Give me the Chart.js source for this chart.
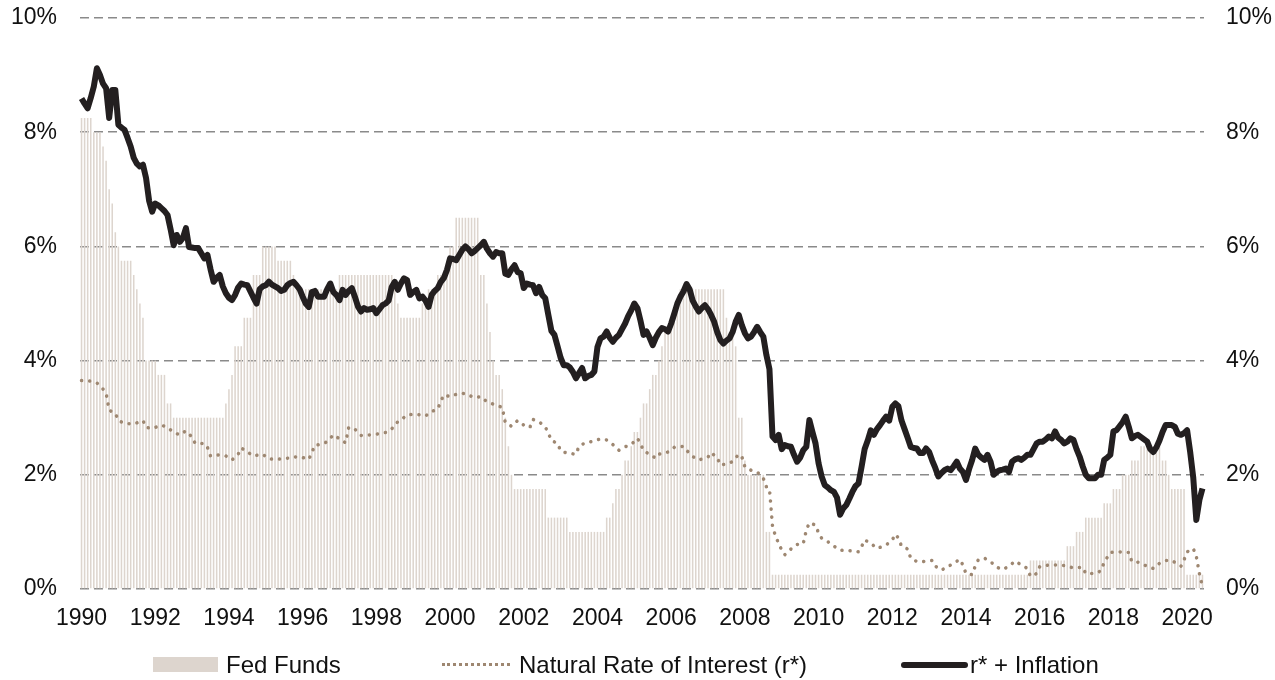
<!DOCTYPE html>
<html>
<head>
<meta charset="utf-8">
<script src="https://cdn.jsdelivr.net/npm/chart.js"></script>
<style>
  html, body { margin: 0; padding: 0; background: #fff; }
  .wrap { position: relative; width: 1275px; height: 680px; font-family: "Liberation Sans", Arial, sans-serif; }
  .legend-item { position: absolute; top: 650px; height: 30px; line-height: 30px; font-size: 24px; color: #111; white-space: nowrap; }
  .key { position: absolute; }
</style>
</head>
<body>
<div class="wrap">
  <canvas id="rateChart" width="1275" height="680"></canvas>

  <div class="key" style="left:153px; top:657px; width:65px; height:15px; background:#ddd5ce;"></div>
  <div class="legend-item" style="left:226px;">Fed Funds</div>

  <div class="key" style="left:442px; top:663px; width:68px; height:0; border-top:3px dotted #9e8771;"></div>
  <div class="legend-item" style="left:519px;">Natural Rate of Interest (r*)</div>

  <div class="key" style="left:901px; top:662px; width:67px; height:6px; background:#231f20; border-radius:3px;"></div>
  <div class="legend-item" style="left:970px;">r* + Inflation</div>
</div>

<script>
// ================================ data =============================
var startYear = 1990;
var monthCount = 366; // Jan 1990 - Jun 2020

// fed funds target, one value per month (as plotted)
var fedFunds = [
  8.25, 8.25, 8.25, 8.25, 8.0, 8.0, 8.0, 7.75, 7.5, 7.0, 6.75, 6.25,
  6.0, 5.75, 5.75, 5.75, 5.75, 5.5, 5.25, 5.0, 4.75, 4.0, 4.0, 4.0,
  4.0, 3.75, 3.75, 3.75, 3.25, 3.25, 3.0, 3.0, 3.0, 3.0, 3.0, 3.0,
  3.0, 3.0, 3.0, 3.0, 3.0, 3.0, 3.0, 3.0, 3.0, 3.0, 3.0, 3.25,
  3.5, 3.75, 4.25, 4.25, 4.25, 4.75, 4.75, 4.75, 5.5, 5.5, 5.5, 6.0,
  6.0, 6.0, 6.0, 6.0, 5.75, 5.75, 5.75, 5.75, 5.75, 5.5, 5.25, 5.25,
  5.25, 5.25, 5.25, 5.25, 5.25, 5.25, 5.25, 5.25, 5.25, 5.25, 5.25, 5.25,
  5.5, 5.5, 5.5, 5.5, 5.5, 5.5, 5.5, 5.5, 5.5, 5.5, 5.5, 5.5,
  5.5, 5.5, 5.5, 5.5, 5.5, 5.5, 5.25, 5.0, 4.75, 4.75, 4.75, 4.75,
  4.75, 4.75, 4.75, 5.0, 5.0, 5.25, 5.25, 5.25, 5.5, 5.5, 5.5, 5.75,
  6.0, 6.0, 6.5, 6.5, 6.5, 6.5, 6.5, 6.5, 6.5, 6.5, 5.5, 5.5,
  5.0, 4.5, 4.0, 3.75, 3.75, 3.5, 3.0, 2.5, 2.0, 1.75, 1.75, 1.75,
  1.75, 1.75, 1.75, 1.75, 1.75, 1.75, 1.75, 1.75, 1.25, 1.25, 1.25, 1.25,
  1.25, 1.25, 1.25, 1.0, 1.0, 1.0, 1.0, 1.0, 1.0, 1.0, 1.0, 1.0,
  1.0, 1.0, 1.0, 1.25, 1.25, 1.5, 1.75, 1.75, 2.0, 2.25, 2.25, 2.5,
  2.75, 2.75, 3.0, 3.25, 3.25, 3.5, 3.75, 3.75, 4.0, 4.25, 4.5, 4.5,
  4.75, 4.75, 5.0, 5.25, 5.25, 5.25, 5.25, 5.25, 5.25, 5.25, 5.25, 5.25,
  5.25, 5.25, 5.25, 5.25, 5.25, 5.25, 4.75, 4.5, 4.5, 4.25, 3.0, 3.0,
  2.25, 2.0, 2.0, 2.0, 2.0, 2.0, 2.0, 1.0, 1.0, 0.25, 0.25, 0.25,
  0.25, 0.25, 0.25, 0.25, 0.25, 0.25, 0.25, 0.25, 0.25, 0.25, 0.25, 0.25,
  0.25, 0.25, 0.25, 0.25, 0.25, 0.25, 0.25, 0.25, 0.25, 0.25, 0.25, 0.25,
  0.25, 0.25, 0.25, 0.25, 0.25, 0.25, 0.25, 0.25, 0.25, 0.25, 0.25, 0.25,
  0.25, 0.25, 0.25, 0.25, 0.25, 0.25, 0.25, 0.25, 0.25, 0.25, 0.25, 0.25,
  0.25, 0.25, 0.25, 0.25, 0.25, 0.25, 0.25, 0.25, 0.25, 0.25, 0.25, 0.25,
  0.25, 0.25, 0.25, 0.25, 0.25, 0.25, 0.25, 0.25, 0.25, 0.25, 0.25, 0.25,
  0.25, 0.25, 0.25, 0.25, 0.25, 0.25, 0.25, 0.25, 0.25, 0.5, 0.5, 0.5,
  0.5, 0.5, 0.5, 0.5, 0.5, 0.5, 0.5, 0.5, 0.5, 0.75, 0.75, 0.75,
  1.0, 1.0, 1.0, 1.25, 1.25, 1.25, 1.25, 1.25, 1.25, 1.5, 1.5, 1.5,
  1.75, 1.75, 1.75, 2.0, 2.0, 2.0, 2.25, 2.25, 2.25, 2.5, 2.5, 2.5,
  2.5, 2.5, 2.5, 2.5, 2.25, 2.25, 2.0, 1.75, 1.75, 1.75, 1.75, 1.75,
  0.25, 0.25, 0.25, 0.25, 0.25, 0.25
];

// r* + inflation, monthly
var rStarInflation = [
  8.59, 8.50, 8.42, 8.60, 8.80, 9.12, 9.00, 8.85, 8.77, 8.25, 8.74, 8.74,
  8.13, 8.08, 8.04, 7.90, 7.75, 7.55, 7.45, 7.40, 7.43, 7.20, 6.80, 6.61,
  6.75, 6.72, 6.67, 6.62, 6.55, 6.30, 6.02, 6.20, 6.08, 6.15, 6.32, 5.99,
  5.98, 5.97, 5.97, 5.88, 5.79, 5.85, 5.60, 5.38, 5.45, 5.50, 5.30, 5.18,
  5.10, 5.06, 5.15, 5.28, 5.35, 5.33, 5.32, 5.21, 5.10, 5.00, 5.25, 5.30,
  5.32, 5.38, 5.33, 5.30, 5.27, 5.22, 5.24, 5.32, 5.36, 5.38, 5.32, 5.25,
  5.12, 5.00, 4.94, 5.20, 5.22, 5.12, 5.12, 5.12, 5.25, 5.35, 5.20, 5.15,
  5.06, 5.24, 5.15, 5.22, 5.27, 5.12, 4.95, 4.86, 4.92, 4.89, 4.90, 4.92,
  4.83, 4.90, 4.97, 5.00, 5.05, 5.29, 5.38, 5.24, 5.35, 5.44, 5.41, 5.15,
  5.20, 5.24, 5.09, 5.12, 5.05, 4.94, 5.15, 5.22, 5.27, 5.38, 5.45, 5.59,
  5.79, 5.78, 5.76, 5.85, 5.94, 6.00, 5.95, 5.88, 5.92, 5.97, 6.02, 6.08,
  5.96, 5.88, 5.82, 5.90, 5.88, 5.88, 5.52, 5.50, 5.60, 5.67, 5.55, 5.53,
  5.27, 5.35, 5.33, 5.32, 5.18, 5.29, 5.15, 5.09, 4.80, 4.52, 4.45, 4.25,
  4.05, 3.92, 3.92, 3.88, 3.80, 3.69, 3.78, 3.87, 3.69, 3.73, 3.75, 3.81,
  4.24, 4.39, 4.42, 4.51, 4.40, 4.33, 4.40, 4.45, 4.55, 4.65, 4.78, 4.88,
  5.00, 4.92, 4.70, 4.45, 4.51, 4.40, 4.27, 4.40, 4.50, 4.57, 4.55, 4.51,
  4.65, 4.82, 5.00, 5.12, 5.21, 5.34, 5.25, 5.05, 4.95, 4.86, 4.92, 4.97,
  4.90, 4.80, 4.68, 4.50, 4.36, 4.30, 4.35, 4.39, 4.50, 4.68, 4.80, 4.62,
  4.48, 4.39, 4.42, 4.50, 4.59, 4.50, 4.42, 4.10, 3.85, 2.67, 2.61, 2.70,
  2.45, 2.52, 2.50, 2.49, 2.35, 2.23, 2.30, 2.43, 2.49, 2.96, 2.75, 2.55,
  2.20, 1.97, 1.82, 1.78, 1.73, 1.70, 1.60, 1.30, 1.41, 1.47, 1.58, 1.70,
  1.80, 1.85, 2.14, 2.45, 2.60, 2.78, 2.70, 2.80, 2.87, 2.95, 3.02, 2.95,
  3.19, 3.25, 3.20, 2.95, 2.80, 2.65, 2.49, 2.47, 2.46, 2.38, 2.38, 2.46,
  2.40, 2.25, 2.12, 1.97, 2.03, 2.08, 2.11, 2.08, 2.15, 2.23, 2.11, 2.05,
  1.91, 2.10, 2.26, 2.46, 2.35, 2.30, 2.26, 2.35, 2.23, 2.00, 2.05, 2.08,
  2.09, 2.11, 2.05, 2.23, 2.27, 2.29, 2.26, 2.30, 2.35, 2.35, 2.45, 2.55,
  2.58, 2.58, 2.62, 2.67, 2.64, 2.76, 2.65, 2.61, 2.55, 2.58, 2.64, 2.61,
  2.45, 2.32, 2.15, 2.00, 1.94, 1.94, 1.94, 2.00, 2.00, 2.26, 2.30, 2.35,
  2.76, 2.78, 2.85, 2.92, 3.02, 2.84, 2.64, 2.68, 2.70, 2.66, 2.62, 2.58,
  2.45, 2.40, 2.48, 2.60, 2.75, 2.87, 2.87, 2.87, 2.84, 2.72, 2.70, 2.73,
  2.78, 2.40, 1.95, 1.21, 1.56, 1.76
];

// natural rate of interest (r*): month index since Jan 1990 and value
var rStarMonth = [
  0, 3, 5, 7, 8, 9, 11, 12, 14, 17, 20, 21, 23, 26, 28, 30, 32, 34, 36, 37,
  40, 41, 42, 45, 47, 49, 51, 52, 54, 56, 59, 61, 63, 66, 69, 71, 74, 75, 76, 78,
  80, 82, 84, 86, 87, 89, 91, 94, 96, 99, 101, 102, 104, 106, 109, 112, 114, 116, 117, 118,
  120, 123, 125, 128, 130, 132, 134, 137, 138, 140, 142, 144, 146, 147, 149, 151, 152, 153, 155, 156,
  158, 161, 162, 164, 166, 169, 171, 173, 175, 177, 179, 181, 182, 183, 185, 187, 188, 191, 193, 196,
  197, 199, 201, 204, 205, 207, 208, 210, 212, 214, 215, 216, 218, 220, 222, 223, 224, 225, 226, 228,
  229, 231, 233, 235, 236, 237, 239, 240, 241, 243, 245, 247, 250, 253, 254, 255, 257, 259, 262, 264,
  265, 266, 267, 269, 270, 272, 274, 277, 278, 280, 282, 284, 286, 287, 288, 290, 291, 292, 294, 296,
  298, 300, 302, 304, 306, 308, 309, 311, 312, 315, 318, 320, 323, 326, 327, 330, 332, 333, 335, 338,
  341, 342, 344, 346, 349, 351, 353, 355, 358, 359, 360, 362, 363, 364, 365
];
var rStarValue = [
  3.65, 3.64, 3.61, 3.50, 3.43, 3.13, 3.08, 2.95, 2.90, 2.89, 2.95, 2.83, 2.81, 2.87, 2.83, 2.74, 2.70, 2.77, 2.66, 2.55,
  2.55, 2.48, 2.33, 2.35, 2.33, 2.26, 2.36, 2.47, 2.40, 2.33, 2.36, 2.28, 2.27, 2.28, 2.31, 2.32, 2.27, 2.39, 2.52, 2.53,
  2.58, 2.70, 2.63, 2.56, 2.83, 2.80, 2.69, 2.70, 2.71, 2.74, 2.80, 2.89, 2.96, 3.05, 3.06, 3.03, 3.11, 3.15, 3.29, 3.40,
  3.37, 3.43, 3.42, 3.35, 3.37, 3.28, 3.24, 3.18, 2.91, 2.85, 2.95, 2.87, 2.83, 2.97, 2.93, 2.84, 2.73, 2.60, 2.55, 2.42,
  2.38, 2.36, 2.50, 2.56, 2.58, 2.63, 2.61, 2.53, 2.43, 2.49, 2.53, 2.64, 2.55, 2.42, 2.36, 2.29, 2.36, 2.40, 2.48, 2.50,
  2.43, 2.32, 2.26, 2.31, 2.39, 2.30, 2.17, 2.19, 2.23, 2.36, 2.32, 2.14, 2.08, 2.05, 1.94, 1.79, 1.76, 1.10, 0.92, 0.68,
  0.60, 0.70, 0.78, 0.79, 1.03, 1.16, 1.12, 0.98, 0.89, 0.83, 0.75, 0.68, 0.67, 0.65, 0.74, 0.86, 0.80, 0.71, 0.77, 0.86,
  0.96, 0.89, 0.75, 0.70, 0.54, 0.48, 0.48, 0.50, 0.40, 0.33, 0.39, 0.45, 0.52, 0.42, 0.27, 0.25, 0.40, 0.51, 0.54, 0.48,
  0.38, 0.34, 0.40, 0.49, 0.42, 0.36, 0.22, 0.27, 0.39, 0.42, 0.42, 0.41, 0.37, 0.38, 0.27, 0.27, 0.32, 0.47, 0.64, 0.65,
  0.64, 0.48, 0.47, 0.42, 0.36, 0.45, 0.50, 0.50, 0.40, 0.51, 0.65, 0.71, 0.57, 0.27, 0.04
];

var yTicks = [0, 2, 4, 6, 8, 10];

/* =============================== build labels ============================================================ */
var labels = [];
for (var i = 0; i < monthCount; i++) {
  var y = startYear + Math.floor(i / 12);
  var m = (i % 12) + 1;
  labels.push(y + "-" + (m < 10 ? "0" + m : m));
}

var rStarPoints = rStarMonth.map(function (m, i) {
  return { x: labels[m], y: rStarValue[i] };
});

/* =============================== chart ================================================================== */
var fontFamily = '"Liberation Sans", Arial, sans-serif';

// fixed axis sizes, and no extra padding from the tick labels
function fixWidth(w) {
  return function (scale) {
    scale.width = w;
    scale.paddingTop = 0;
    scale.paddingBottom = 0;
  };
}

var ctx = document.getElementById("rateChart").getContext("2d");
var rateChart = new Chart(ctx, {
  type: "bar",
  data: {
    labels: labels,
    datasets: [
      {
        type: "line",
        label: "r* + Inflation",
        data: rStarInflation,
        borderColor: "#231f20",
        borderWidth: 6,
        pointRadius: 0,
        tension: 0,
        borderJoinStyle: "round",
        yAxisID: "y",
        order: 1,
      },
      {
        type: "line",
        label: "Natural Rate of Interest (r*)",
        data: rStarPoints,
        borderColor: "#9e8771",
        borderWidth: 3.5,
        borderDash: [0.1, 8],
        borderCapStyle: "round",
        pointRadius: 0,
        tension: 0,
        yAxisID: "y",
        order: 2,
      },
      {
        label: "Fed Funds",
        data: fedFunds,
        backgroundColor: "#ddd5ce",
        barPercentage: 0.5,
        categoryPercentage: 1,
        yAxisID: "y",
        order: 3,
      },
    ],
  },
  options: {
    responsive: false,
    animation: false,
    layout: { padding: { top: 18, left: 0, right: 0, bottom: 0 } },
    plugins: {
      legend: { display: false },
      tooltip: { enabled: false },
    },
    scales: {
      x: {
        offset: true,
        grid: { display: false, drawTicks: false },
        border: { display: false },
        ticks: {
          autoSkip: false,
          maxRotation: 0,
          padding: 16,
          color: "#111",
          font: { family: fontFamily, size: 23 },
          callback: function (val, idx) {
            return idx % 24 === 0 ? String(startYear + idx / 12) : "";
          },
        },
        afterFit: function (scale) {
          scale.height = 91;
          scale.paddingLeft = 0;
          scale.paddingRight = 0;
        },
      },
      y: {
        position: "left",
        min: 0,
        max: 10,
        afterBuildTicks: function (scale) {
          scale.ticks = yTicks.map(function (v) { return { value: v }; });
        },
        grid: {
          color: "#8a8a8a",
          lineWidth: 1.5,
          drawTicks: false,
        },
        border: { display: false, dash: [9, 5] },
        ticks: {
          padding: 23,
          color: "#111",
          font: { family: fontFamily, size: 23 },
          callback: function (v) { return v + "%"; },
        },
        afterFit: fixWidth(80),
      },
      y2: {
        position: "right",
        min: 0,
        max: 10,
        afterBuildTicks: function (scale) {
          scale.ticks = yTicks.map(function (v) { return { value: v }; });
        },
        grid: { display: false, drawTicks: false },
        border: { display: false },
        ticks: {
          padding: 22,
          color: "#111",
          font: { family: fontFamily, size: 23 },
          callback: function (v) { return v + "%"; },
        },
        afterFit: fixWidth(71),
      },
    },
  },
});
</script>
</body>
</html>
